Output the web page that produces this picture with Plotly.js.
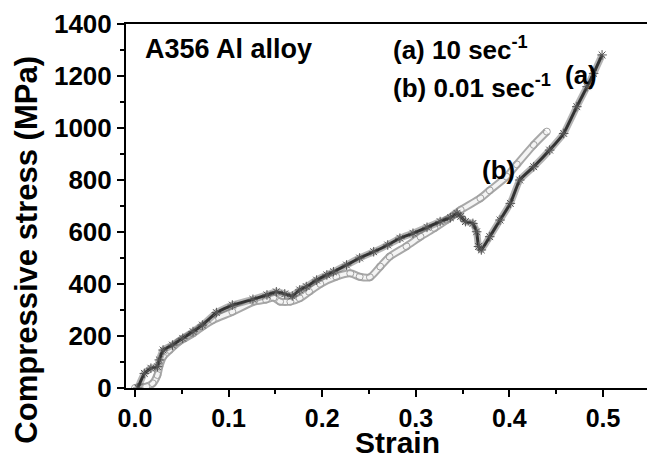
<!DOCTYPE html>
<html>
<head>
<meta charset="utf-8">
<script src="https://cdn.plot.ly/plotly-3.0.1.min.js"></script>
<style>html,body{margin:0;padding:0;background:#fff;}#chart{width:647px;height:458px;}</style>
</head>
<body>
<div id="chart"></div>
<script>
// Curve (a): 10 sec^-1
const strainA = [0.003,0.010,0.017,0.024,0.026,0.030,0.040,0.051,0.062,0.072,0.087,0.104,0.126,0.141,0.151,0.160,0.168,0.176,0.183,0.194,0.205,0.212,0.226,0.240,0.255,0.270,0.283,0.297,0.312,0.326,0.337,0.344,0.348,0.353,0.361,0.365,0.367,0.370,0.379,0.390,0.401,0.411,0.426,0.443,0.458,0.472,0.483,0.490,0.499];
const stressA = [0,56,76,82,108,146,165,191,217,242,290,319,341,358,370,362,354,377,390,415,435,447,473,500,524,550,576,595,618,640,655,672,660,640,633,601,544,531,582,646,710,800,851,915,979,1082,1159,1210,1281];
// Curve (b): 0.01 sec^-1
const strainB = [0.000,0.012,0.019,0.024,0.026,0.030,0.037,0.047,0.062,0.072,0.083,0.104,0.127,0.140,0.148,0.155,0.166,0.176,0.186,0.198,0.215,0.230,0.240,0.251,0.262,0.272,0.290,0.305,0.320,0.333,0.348,0.369,0.379,0.397,0.408,0.426,0.440];
const stressB = [0,5,18,50,82,120,146,178,210,236,261,293,332,340,348,332,332,345,370,400,428,441,428,426,467,505,545,582,615,646,685,730,760,813,860,935,986];

const xTickVals = [0.0,0.1,0.2,0.3,0.4,0.5];
const xTickText = ['0.0','0.1','0.2','0.3','0.4','0.5'];
const yTickVals = [0,200,400,600,800,1000,1200,1400];

const F = 'Liberation Sans, Arial, sans-serif';

const traces = [
  {x: strainB, y: stressB, mode: 'lines', line: {color: '#a8a8a8', width: 8, shape: 'spline', smoothing: 0.6}, hoverinfo: 'skip', showlegend: false},
  {x: strainB, y: stressB, mode: 'lines+markers', line: {color: '#f4f4f4', width: 4, shape: 'spline', smoothing: 0.6},
   marker: {symbol: 'circle-open', size: 7, color: '#a0a0a0', line: {width: 1}}, showlegend: false},
  {x: strainA, y: stressA, mode: 'lines', line: {color: 'rgba(90,90,90,0.45)', width: 7, shape: 'spline', smoothing: 0.3}, hoverinfo: 'skip', showlegend: false},
  {x: strainA, y: stressA, mode: 'lines+markers', line: {color: '#333333', width: 3, shape: 'spline', smoothing: 0.3},
   marker: {symbol: 'asterisk-open', size: 8, color: '#555555', line: {width: 1, color: '#555555'}}, showlegend: false}
];

const layout = {
  width: 647, height: 458,
  margin: {l: 126, r: 0, t: 24, b: 70},
  paper_bgcolor: '#fff', plot_bgcolor: '#fff',
  font: {family: F, color: '#000'},
  xaxis: {
    range: [-0.0096, 0.547], tickvals: xTickVals, ticktext: xTickText,
    showgrid: false, zeroline: false, showline: true, linecolor: '#000', linewidth: 2, mirror: true,
    ticks: 'outside', ticklen: 7, tickwidth: 2, tickcolor: '#000',
    tickfont: {family: F, size: 25, color: '#000', weight: 'bold'},
    minor: {dtick: 0.05, ticks: 'outside', ticklen: 4, tickwidth: 2, tickcolor: '#000', tick0: 0}
  },
  yaxis: {
    range: [0, 1400], tickvals: yTickVals,
    showgrid: false, zeroline: false, showline: true, linecolor: '#000', linewidth: 2,
    ticks: 'outside', ticklen: 7, tickwidth: 2, tickcolor: '#000',
    tickfont: {family: F, size: 26, color: '#000', weight: 'bold'},
    minor: {dtick: 100, ticks: 'outside', ticklen: 4, tickwidth: 2, tickcolor: '#000', tick0: 0}
  },
  annotations: [
    {xref: 'paper', yref: 'paper', x: -0.19, y: 0.38, text: '<b>Compressive stress (MPa)</b>', textangle: -90, showarrow: false,
     font: {family: F, size: 31, color: '#000'}, xanchor: 'center', yanchor: 'middle'},
    {xref: 'paper', yref: 'paper', x: 0.521, y: -0.15, text: '<b>Strain</b>', showarrow: false,
     font: {family: F, size: 30, color: '#000'}, xanchor: 'center', yanchor: 'middle'},
    {xref: 'x', yref: 'y', x: 0.0085, y: 1304, text: '<b>A356 Al alloy</b>', showarrow: false,
     font: {family: F, size: 27, color: '#000'}, xanchor: 'left', yanchor: 'middle'},
    {xref: 'x', yref: 'y', x: 0.274, y: 1305, text: '<b>(a) 10 sec<sup>-1</sup></b>', showarrow: false,
     font: {family: F, size: 26, color: '#000'}, xanchor: 'left', yanchor: 'middle'},
    {xref: 'x', yref: 'y', x: 0.274, y: 1160, text: '<b>(b) 0.01 sec<sup>-1</sup></b>', showarrow: false,
     font: {family: F, size: 26, color: '#000'}, xanchor: 'left', yanchor: 'middle'},
    {xref: 'x', yref: 'y', x: 0.4765, y: 1202, text: '<b>(a)</b>', showarrow: false,
     font: {family: F, size: 26, color: '#000'}, xanchor: 'center', yanchor: 'middle'},
    {xref: 'x', yref: 'y', x: 0.388, y: 838, text: '<b>(b)</b>', showarrow: false,
     font: {family: F, size: 26, color: '#000'}, xanchor: 'center', yanchor: 'middle'}
  ]
};

Plotly.newPlot('chart', traces, layout, {staticPlot: true, displayModeBar: false});
</script>
</body>
</html>
